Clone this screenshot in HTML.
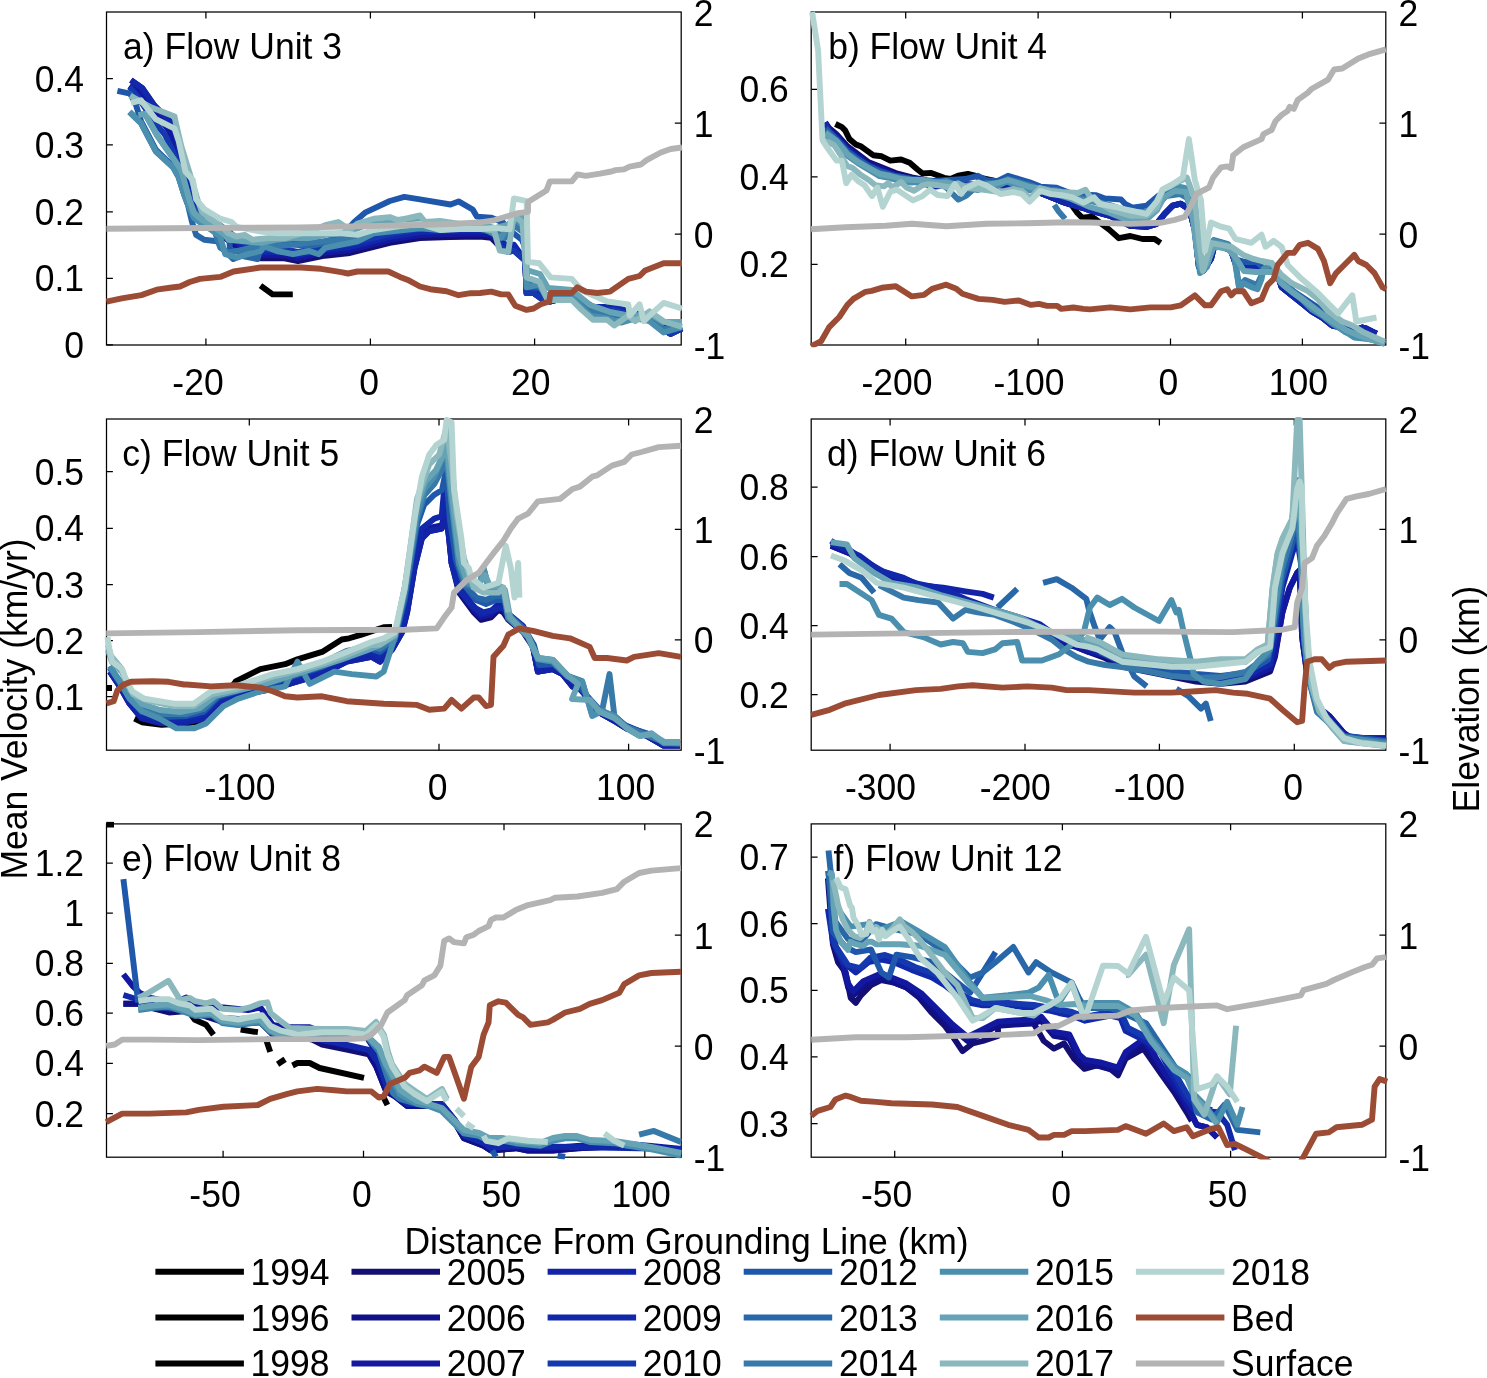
<!DOCTYPE html><html><head><meta charset="utf-8"><style>html,body{margin:0;padding:0;background:#fff}svg{display:block;will-change:transform}text{font-family:"Liberation Sans",sans-serif;font-size:35.5px;fill:#000}</style></head><body>
<svg width="1487" height="1378" viewBox="0 0 1487 1378">
<rect width="1487" height="1378" fill="#fff"/>
<rect x="106.5" y="12" width="574.7" height="333" fill="none" stroke="#000" stroke-width="1.25"/>
<path d="M106.5,344.8h6.4 M106.5,278.4h6.4 M106.5,211.8h6.4 M106.5,144.9h6.4 M106.5,78.7h6.4 M681.2,123h-6.4 M681.2,234h-6.4 M205.9,345v-6.4 M205.9,12v6.4 M370.4,345v-6.4 M370.4,12v6.4 M534.6,345v-6.4 M534.6,12v6.4" stroke="#000" stroke-width="1.25" fill="none"/>
<clipPath id="ca"><rect x="104.2" y="9.7" width="579.3" height="337.6"/></clipPath>
<g clip-path="url(#ca)" fill="none" stroke-width="5.9" stroke-linejoin="round" stroke-linecap="butt">
<path d="M260.5,285.6 272.6,294.4 292.8,294.4" stroke="#000000" />
<path d="M130.9,80.2 142.3,88.2 154.4,105.7 165.2,116.5 173.2,124.6 177.3,140.7 181.3,160.9 186.7,177 192.1,194.5 194.4,209.9 199.8,215.3 210.5,223.4 219.9,234.1 230.7,242.2 244.1,253 261.6,258.4 284.5,258.4 297.9,261 311.4,258.4 324.8,255.7 350,253 389.8,242.9 420,238.1 450,237 480,236.5 491.3,237.9 501.2,247.8 508.2,252 513.9,250.6 525.2,260.5 526.6,293 533.7,293 543.6,300 550.6,301.5 571.8,295.8 593,309.9 614.2,309.9 628.3,314.2 656.5,321.2 663.6,329.7 670.7,333.9 682,328.3" stroke="#140f73" />
<path d="M129.5,85.6 141,93.6 150.4,104.4 159.8,117.8 169.2,131.3 175.9,147.4 181.3,167.6 186.7,187.8 192.1,191.5 194.4,206.9 199.8,212.3 210.5,220.4 219.9,231.1 230.7,239.2 244.1,250 261.6,255.4 284.5,255.4 297.9,258 311.4,255.4 324.8,252.7 350,250 389.8,239.9 420,235.1 450,234 480,233.5 491.3,234.9 501.2,244.8 508.2,249 513.9,247.6 525.2,260.5 526.6,293 533.7,293 543.6,300 550.6,301.5 571.8,295.8 593,309.9 614.2,309.9 628.3,314.2 656.5,321.2 663.6,329.7 670.7,333.9 682,328.3" stroke="#1318a0" />
<path d="M130.9,80.2 142.3,88.2 154.4,105.7 165.2,116.5 173.2,124.6 177.3,140.7 181.3,160.9 186.7,177 192.1,194.5 194.4,209.9 199.8,215.3 210.5,217.4 219.9,228.1 230.7,236.2 244.1,247 261.6,252.4 284.5,252.4 297.9,255 311.4,252.4 324.8,249.7 350,247 389.8,236.9 420,232.1 450,231 480,230.5 491.3,231.9 501.2,241.8 508.2,246 513.9,244.6 525.2,260.5 526.6,293 533.7,290 543.6,297 550.6,298.5 571.8,292.8 593,306.9 614.2,306.9 628.3,311.2 656.5,318.2 663.6,326.7 670.7,330.9 682,328.3" stroke="#1128ab" />
<path d="M129.5,86.9 138.3,97.7 146.3,109.8 155.8,123.2 165.2,135.3 173.2,151.5 178.6,167.6 184,187.8 192.1,194.5 194.4,209.9 199.8,215.3 210.5,223.4 219.9,225.1 230.7,233.2 244.1,244 261.6,249.4 284.5,249.4 297.9,252 311.4,249.4 324.8,246.7 350,244 389.8,233.9 420,229.1 450,228 480,227.5 491.3,228.9 501.2,247.8 508.2,252 513.9,250.6 525.2,260.5 526.6,293 533.7,293 543.6,300 550.6,301.5 571.8,295.8 593,309.9 614.2,309.9 628.3,314.2 656.5,321.2 663.6,329.7 670.7,333.9 682,328.3" stroke="#1439af" />
<path d="M117.4,90.9 130.2,93.6 136,105 141,121 155.8,149.5 173.2,166.6 178.6,176 184,193.5 188,204 194,210 201,219 208,221 216,224 222,232 229,235 230,250 241.3,252 257.5,254 264,247.8 270.4,244.6 284.9,241.3 293,242.9 309.1,244.6 325.3,241.3 341.4,236.5 354.3,222 365.6,212.3 389.8,201 404.3,196.9 420,199.4 450.5,204.5 458.6,201.4 472.7,209.5 476.8,216.6 490.9,217.6 503,222.6 512,232 522,240 526,250 526.6,287 540,288 548,298 572,297 590,306 610,312 630,316 650,318 663,330 682,327" stroke="#1f57ab" />
<path d="M129.5,112 141,123 155.8,151 173.2,167 178.6,177 184,194 188,205 192,222 196.1,234.9 204.2,239.7 217.1,241.3 225.2,251 233.3,259.1 241.3,255.9 257.5,259.1 260.7,247.8 270.4,246 284.9,243.5 293,244.5 309.1,246 325.3,243 341.4,239 357.5,238 373.7,233 389.8,230 420,228 440,228 460,227 480,228 495,232 505,237 515,225 524,232 526.6,282 540,287 548,299 572,298 590,311 610,314 630,318 650,318 663,330 682,327" stroke="#2868a8" />
<path d="M138.3,115.1 145,113.8 157.1,135.3 175.9,162.2 181.3,170.3 189.4,199.9 194,212 204,222 214,229 220.3,247.8 228.4,252.6 244.6,249.4 260.7,244.6 276.8,246.2 293,244.6 309.1,242.9 325.3,241.3 341.4,239.7 357.5,236.5 373.7,231.6 420,226.8 440,229 460,228 480,229 495,233 505,238 515,226 524,233 526.6,280 540,286 548,299 572,298 590,310 610,313 630,318 650,317 663,329 682,326" stroke="#3779a8" />
<path d="M129.5,111.8 141,123.2 155.8,151.5 173.2,167.6 178.6,177 184,194.5 188,205 194,218 202,224 210,229 220,236 225.2,254.2 236.5,257.5 247.8,254.2 260.7,251 263.9,246.2 276.8,251 293,254.2 309.1,251 318.8,254.2 325.3,247.8 341.4,244.6 357.5,241.3 373.7,233.3 389.8,231.6 420,228.4 440,230 460,228 480,226.6 501.2,237.9 512.5,218.1 525.2,226.6 526.6,287.3 539.3,284.5 547.8,300 571.8,297.2 590.2,315.6 607.1,318.4 621.2,322.6 635.3,318.4 649.5,321.2 663.6,332.5 682,326.9" stroke="#4a8fae" />
<path d="M138.3,115.1 145,113.8 157.1,135.3 175.9,162.2 181.3,170.3 189.4,199.9 194,213 202,220 212,226 224,234 228.4,239.7 244.6,241.3 260.7,242.9 276.8,239.7 293,238.1 309.1,238.1 325.3,234.9 341.4,233.3 357.5,228.4 373.7,222 389.8,220.3 420,218.7 425,225 440,226 460,224 480,224 495,228 510,224 520,214 525,222 526.6,270 540,274 548,288 572,290 590,305 610,312 630,316 650,314 663,322 682,322" stroke="#66a3b5" />
<path d="M130.2,95.6 150.4,107.1 174.6,116.5 175.9,123.2 181.3,146.1 192.1,181 197.5,199.9 202,212 210,219 220,225 228.4,233.3 236.5,236.5 244.6,234.9 252.6,239.7 268.8,238.1 284.9,238.1 301,233.3 309.1,231.6 325.3,225.2 338.2,222 349.5,230 357.5,223.6 373.7,218.7 389.8,217.1 397.9,220.3 420,215.5 425,222 440,221 460,224 480,228 494.1,230.8 499.8,250.6 508.2,252 513.9,215.3 522.4,222.4 526.6,277.4 539.3,281.7 547.8,300 571.8,300 581.7,309.9 593,319.8 607.1,319.8 614.2,325.5 628.3,315.6 635.3,321.2 649.5,311.3 663.6,321.2 682,326.9" stroke="#8ab8bd" />
<path d="M130.9,103 141,100.3 155.8,119.2 174.6,128.6 178.6,140.7 185.4,171.6 192.9,180 196.1,199.4 204.2,209 220.3,218.7 231.6,222 236.5,226.8 260.7,231.6 276.8,233.3 301,233.3 325.3,233.3 341.4,233.3 357.5,234.9 373.7,230 400,226 420,224 440,230 460,229 480,229 495,228 509.7,229.4 513.9,198.4 526.6,201.2 528,261.9 539.3,263.3 550.6,277.4 571.8,278.9 581.7,290.2 607.1,301.5 628.3,304.3 629.7,315.6 639.6,304.3 643.8,321.2 649.5,315.6 663.6,302.9 682,308.5" stroke="#b4d4d2" />
<path d="M106.5,301.7 121.8,298.4 141.4,295.1 156.6,289.7 171.8,287.5 180,286.5 189.7,282 200,278.9 220.2,276.9 233.6,271.5 260.5,267.5 300.9,267.5 321,268.8 341.2,272.2 347.9,273.5 357.4,271.5 388.3,271.5 400,276.9 409.2,280.6 420,286.5 430.3,289.2 446.5,291.2 458.6,295.2 470.7,293.2 480,293 491.3,291.6 501.2,294.4 508.2,294.4 515.3,305.7 526.6,309.9 533.7,308.5 540.7,304.3 549.2,301.5 550.6,293 571.8,293 577.4,287.3 585.9,291.6 597.2,293 609.9,291.6 628.3,278.9 639.6,276 645.2,270.4 663.6,263.3 682,263.3" stroke="#9c4c35" />
<path d="M106.5,228.7 200,228 300,227.5 390,225.6 420,225 450,224 480,222.4 494.1,220.3 508.2,216 518.1,213.2 528,211.8 528,201.9 546.4,190.6 549.9,181.4 571.8,181.4 577.4,174.4 585.9,175.8 600,173.7 611.3,171.5 615.6,170.1 624,169.4 629.7,166.6 641,164.5 646.6,160.2 660.8,152.5 670.7,149 682,147.5" stroke="#b3b3b3" />
</g>
<text transform="translate(84.1,357.8) scale(1,1.045)" text-anchor="end">0</text>
<text transform="translate(84.1,291.4) scale(1,1.045)" text-anchor="end">0.1</text>
<text transform="translate(84.1,224.8) scale(1,1.045)" text-anchor="end">0.2</text>
<text transform="translate(84.1,157.9) scale(1,1.045)" text-anchor="end">0.3</text>
<text transform="translate(84.1,91.7) scale(1,1.045)" text-anchor="end">0.4</text>
<text transform="translate(693.8,25.5) scale(1,1.045)">2</text>
<text transform="translate(693.8,136.5) scale(1,1.045)">1</text>
<text transform="translate(693.8,247.5) scale(1,1.045)">0</text>
<text transform="translate(693.8,358.5) scale(1,1.045)">-1</text>
<text transform="translate(198,394.5) scale(1,1.045)" text-anchor="middle">-20</text>
<text transform="translate(369,394.5) scale(1,1.045)" text-anchor="middle">0</text>
<text transform="translate(530.8,394.5) scale(1,1.045)" text-anchor="middle">20</text>
<text transform="translate(123.1,58.7) scale(1,1.058)">a) Flow Unit 3</text>
<rect x="811.2" y="12" width="574.6" height="333" fill="none" stroke="#000" stroke-width="1.25"/>
<path d="M811.2,264.4h6.4 M811.2,176.9h6.4 M811.2,89.3h6.4 M1385.8,123h-6.4 M1385.8,234h-6.4 M905.7,345v-6.4 M905.7,12v6.4 M1038.1,345v-6.4 M1038.1,12v6.4 M1170.5,345v-6.4 M1170.5,12v6.4 M1302.4,345v-6.4 M1302.4,12v6.4" stroke="#000" stroke-width="1.25" fill="none"/>
<clipPath id="cb"><rect x="808.9" y="9.7" width="579.2" height="337.6"/></clipPath>
<g clip-path="url(#cb)" fill="none" stroke-width="5.9" stroke-linejoin="round" stroke-linecap="butt">
<path d="M835.4,124 841.9,127.2 845.1,130.4 849.4,139 855.9,144.4 861.3,146.6 873.1,155.2 881.7,156.3 890.3,160.6 901.1,159.5 909.7,162.7 917.2,169.2 922.6,173.5 931.2,172.9 944.1,177.8 950.6,178.9 958.1,175.6 967.8,174 975,175.6 978.5,177.5 1006.7,183.5 1026.9,187.5 1047.1,195.6 1061.8,201.6 1071.5,204.9 1076.9,212.4 1082.3,217.8 1092,216.7 1100.6,223.2 1109.2,229.6 1118.9,238.2 1130.3,236 1142.5,239 1154.6,239 1160.6,243" stroke="#000000" />
<path d="M825.2,122.5 829,127.9 836.5,134.3 847.3,146.2 860.2,155.8 868.8,162.3 879.6,166.6 895.7,173.1 911.8,177.4 922.6,179.5 933.4,182.7 956.3,184 976.5,185 996.7,185 1016.8,186 1037,191.6 1061.8,201.6 1083.4,208.1 1090,210.5 1110.2,215.8 1130.3,225.9 1146.5,226.9 1156.6,223.9 1164.6,213.8 1172.7,205.7 1180.8,203.7 1186.8,207.7 1190.9,215 1194.9,230.7 1198.9,267 1203,271 1211,258.9 1215.1,242.8 1231.2,250.9 1235.3,263 1243.3,267 1255.4,267 1263.5,269 1271.6,267 1277.6,275.1 1281.7,287.2 1291.7,295.3 1301.8,303.3 1311.9,311.4 1322,317.5 1332.1,325.5 1342.2,327.5 1352.3,331.6 1362.4,327.5 1376.5,333.6" stroke="#140f73" />
<path d="M1364.4,327.5 1376.5,333.6" stroke="#140f73" />
<path d="M825.2,122.5 829,129.9 836.5,136.3 847.3,148.2 860.2,157.8 868.8,164.3 879.6,168.6 895.7,175.1 911.8,179.4 922.6,181.5 933.4,184.7 956.3,184 976.5,185 996.7,185 1016.8,186 1037,191.6 1061.8,201.6 1083.4,208.1 1090,210.5 1110.2,215.8 1130.3,225.9 1146.5,226.9 1156.6,223.9 1164.6,213.8 1172.7,205.7 1180.8,203.7 1186.8,207.7 1190.9,215 1194.9,230.7 1198.9,267 1203,271 1211,258.9 1215.1,242.8 1231.2,250.9 1235.3,263 1243.3,267 1255.4,267 1263.5,269 1271.6,267 1277.6,275.1 1281.7,287.2 1291.7,295.3 1301.8,303.3 1311.9,311.4 1322,317.5 1332.1,325.5 1342.2,327.5 1352.3,331.6 1362.4,327.5 1376.5,333.6" stroke="#1318a0" />
<path d="M825.2,122.5 829,131.9 836.5,138.3 847.3,150.2 860.2,159.8 868.8,166.3 879.6,170.6 895.7,177.1 911.8,181.4 922.6,183.5 933.4,186.7 956.3,184 976.5,185 996.7,185 1016.8,186 1037,191.6 1061.8,201.6 1083.4,208.1 1090,210.5 1110.2,215.8 1130.3,225.9 1146.5,226.9 1156.6,223.9 1164.6,213.8 1172.7,205.7 1180.8,203.7 1186.8,207.7 1190.9,215 1194.9,230.7 1198.9,267 1203,271 1211,258.9 1215.1,242.8 1231.2,250.9 1235.3,263 1243.3,267 1255.4,267 1263.5,269 1271.6,267 1277.6,275.1 1281.7,287.2 1291.7,295.3 1301.8,303.3 1311.9,311.4 1322,317.5 1332.1,325.5 1342.2,327.5 1352.3,331.6 1362.4,327.5 1376.5,333.6" stroke="#1128ab" />
<path d="M825.5,128 836.5,139 847.3,151 858,159 868.8,166 879.6,171 895.7,176 911.8,179 922.6,180 933.4,181 950,180 965,179 977.9,175.8 986.5,180.1 997.3,181.2 1008,175.8 1018.8,179 1029.6,182.3 1040.3,186.6 1056.5,187.7 1072.6,194.1 1096.3,195.2 1104.9,198.4 1121,199.5 1125,203.8 1132.4,207.7 1146.5,205.7 1158.6,195.6 1166.7,191.6 1180.8,191.6 1184.8,193.6 1190.9,201.7 1195,225 1199,262 1205,268 1213,245 1229,248 1235,259 1245,262 1257,262 1265,270 1273,268 1281,280 1293,291 1305,299 1317,307 1329,318 1345,330 1357,335 1372,338 1385,342" stroke="#1f57ab" />
<path d="M825.5,131 836.5,141 847.3,153 858,161 868.8,168 879.6,173 895.7,177 911.8,180 922.6,181 933.4,182 940,183 946.2,187.5 958.3,199.6 966.4,195.6 978,185 986.5,183 997.3,184 1008,179 1018.8,182 1029.6,185 1040.3,189 1056.5,190 1072.6,196 1090,200 1110,205 1130,212 1146,212 1158,205 1166,196 1180,194 1187,198 1193,214 1197,245 1201,268 1208,262 1214,240 1228,244 1234,252 1239,286 1245,280 1257,285 1265,268 1273,266 1280,278 1292,290 1304,300 1316,309 1328,319 1345,332 1360,337 1385,343" stroke="#3779a8" />
<path d="M1054.3,204.9 1058.6,211.3 1065.1,218.9" stroke="#3779a8" />
<path d="M825.8,135.2 836.5,142.7 847.3,155.6 858,163.2 868.8,169.6 879.6,176.1 890.3,178.2 901.1,181.4 911.8,182.5 922.6,181.4 933,184 946.2,181 956.3,185 966.4,188 978,190 986.6,187.5 997,186 1006.7,181.5 1018,186 1030,190 1047.1,191.6 1067.3,197.6 1090,201 1110,206 1130,212 1146,212 1157,204 1163,190 1175,186 1185,188 1192.9,216.6 1196.9,250.9 1200,273.1 1207,267 1213.1,240.8 1227.2,244.8 1233.2,250.9 1239.3,289.2 1243.3,283.2 1251.4,287.2 1257.5,289.2 1261.5,279.1 1263.5,269 1271.6,263 1277.6,275.1 1283.7,285.2 1301.8,299.3 1311.9,309.4 1322,315.4 1332.1,323.5 1348.2,333.6 1354.3,337.6 1372.4,339.6 1384.6,343.7" stroke="#4a8fae" />
<path d="M825.5,133 836.5,141 847.3,154 858,162 868.8,168 879.6,174 890.3,176 901.1,179 911.8,180 922.6,180 933,182 946,183 966,186 978,184 986,185 997,183 1008,180 1018,183 1030,187 1047,190 1067,197 1090,207 1110,213 1130,221 1146,220 1157,210 1164,197 1175,191 1186,192 1193,220 1198,258 1202,270 1208,262 1214,246 1228,249 1236,258 1244,271 1256,272 1264,272 1274,272 1281,283 1292,292 1305,301 1318,311 1330,320 1346,330 1360,336 1385,344" stroke="#66a3b5" />
<path d="M821.5,140.1 829,142.3 834.4,145.5 840.8,155.2 843,159.5 847.3,166 852.7,168.1 860.2,174.6 868.8,179.9 875.3,185.3 883.9,186.4 888.2,183.2 892.5,187.5 901.1,182.1 906.5,187.5 914,190.7 922.6,185.3 928,184.2 938.7,185.3 949.5,187.5 958.1,183.2 965.6,187.5 975.8,188.7 986,190 1000,192 1013,189 1022,191 1030,198 1040,188 1051,191 1062,192 1078,193 1085.5,189.8 1089.8,196.3 1110.2,209.7 1130.3,215.8 1146.5,215.8 1156.6,207.7 1162.6,189.6 1174.7,183.5 1186.8,177.5 1195,200 1199,240 1203,271 1211,242.8 1221.1,244.8 1231.2,246.8 1243.3,254.9 1253.4,258.9 1261.5,261 1271.6,263 1281.7,275.1 1291.7,283.2 1307.9,291.2 1318,299.3 1328.1,311.4 1342.2,321.5 1352.3,325.5 1362.4,331.6 1384.6,341.7" stroke="#8ab8bd" />
<path d="M812.1,12 818.1,50.3 822.5,140.1 825.8,145.5 831.1,153 836.5,160.6 841.9,160.6 846.2,183.2 851.6,174.6 858,181 864.5,185.3 872,196.1 877.4,187.5 882.8,206.8 890.3,191.8 896.8,189.6 906.5,196.1 912.9,200.4 922.6,196.1 930.1,189.6 937.7,195 947.3,196.1 954.9,184.2 961.3,193.9 965,188.7 977.9,182.3 986.5,185.5 1000.5,194.1 1013.4,192 1022,194.1 1029.6,201.6 1040.3,190.9 1051.1,194.1 1061.8,195.2 1072.6,197.3 1083.4,202.7 1094.1,197.3 1099.5,203.8 1115.6,207 1126.3,209.7 1146.5,213.8 1156.6,201.7 1162.6,189.6 1170.7,185.5 1182.8,177.5 1188.9,139.1 1194.9,180.3 1201,200.4 1205,250.9 1211,222.6 1221.1,226.7 1229.2,228.7 1235.3,238.8 1251.4,242.8 1261.5,234.7 1265.5,246.8 1273.6,240.8 1281.7,246.8 1287.7,265 1301.8,279.1 1316,291.2 1328.1,303.3 1338.2,313.4 1352.3,295.3 1356.3,321.5 1376.5,317.5" stroke="#b4d4d2" />
<path d="M811.1,346.3 821.1,341.2 829.2,327.1 839.3,317 847.4,304.9 853.4,298.9 865.5,291.8 871.6,290.8 881.7,287.8 895.8,286.3 911.9,296.4 924,294.8 932.1,288.8 946.2,284.7 956.3,288.8 962.4,293.8 978.5,298.9 992.6,299.9 1004.7,301.9 1018.9,300.5 1031,304.9 1039,303.9 1047.1,305.9 1057.2,305.9 1061.2,308.9 1073.3,307.5 1083.4,308.9 1090,309.4 1110.2,307.4 1130.3,309.4 1150.5,307.4 1170.7,307.4 1180.8,305.3 1194.9,295.3 1205,305.3 1211,305.3 1221.1,291.2 1227.2,289.2 1231.2,295.3 1235.3,291.2 1243.3,291.2 1251.4,303.3 1261.5,299.3 1267.5,285.2 1273.6,279.1 1277.6,265 1287.7,252.9 1293.8,252.9 1299.8,244.8 1307.9,242.8 1318,248.9 1324,261 1330.1,283.2 1336.1,273.1 1344.2,265 1354.3,254.9 1358.3,261 1366.4,265 1374.5,273.1 1382.5,287.2 1386,289.2" stroke="#9c4c35" />
<path d="M811.1,229.3 845.3,227.2 885.7,225.8 911.9,223.8 946.2,226.2 986.6,223.8 1026.9,223.2 1067.3,222.2 1090,222.5 1130.3,223.9 1160.6,222.8 1174.7,219.8 1184.8,216.8 1190.9,205.7 1196.9,193.6 1209,187.5 1213.1,177.5 1221.1,167.4 1227.2,166.4 1231.2,168.4 1233.2,155.3 1243.3,147.2 1261.5,139.1 1263.5,134.1 1271.6,130 1275.6,121 1281.7,114.9 1287.7,110.9 1289.7,106.8 1293.8,108.9 1297.8,99.8 1307.9,92.7 1311.9,88.7 1328.1,79.6 1334.1,69.5 1342.2,68.5 1358.3,58.4 1368.4,54.4 1386,49.3" stroke="#b3b3b3" />
</g>
<text transform="translate(788.8,277.4) scale(1,1.045)" text-anchor="end">0.2</text>
<text transform="translate(788.8,189.9) scale(1,1.045)" text-anchor="end">0.4</text>
<text transform="translate(788.8,102.3) scale(1,1.045)" text-anchor="end">0.6</text>
<text transform="translate(1398.4,25.5) scale(1,1.045)">2</text>
<text transform="translate(1398.4,136.5) scale(1,1.045)">1</text>
<text transform="translate(1398.4,247.5) scale(1,1.045)">0</text>
<text transform="translate(1398.4,358.5) scale(1,1.045)">-1</text>
<text transform="translate(896.9,394.5) scale(1,1.045)" text-anchor="middle">-200</text>
<text transform="translate(1029,394.5) scale(1,1.045)" text-anchor="middle">-100</text>
<text transform="translate(1168.3,394.5) scale(1,1.045)" text-anchor="middle">0</text>
<text transform="translate(1298.4,394.5) scale(1,1.045)" text-anchor="middle">100</text>
<text transform="translate(828.2,58.7) scale(1,1.058)">b) Flow Unit 4</text>
<rect x="106.5" y="419" width="574.7" height="331.2" fill="none" stroke="#000" stroke-width="1.25"/>
<path d="M106.5,696.7h6.4 M106.5,640.7h6.4 M106.5,584.6h6.4 M106.5,528.3h6.4 M106.5,471.7h6.4 M681.2,529.4h-6.4 M681.2,639.8h-6.4 M249.3,750.2v-6.4 M249.3,419v6.4 M439,750.2v-6.4 M439,419v6.4 M628.6,750.2v-6.4 M628.6,419v6.4" stroke="#000" stroke-width="1.25" fill="none"/>
<clipPath id="cc"><rect x="104.2" y="416.7" width="579.3" height="335.8"/></clipPath>
<g clip-path="url(#cc)" fill="none" stroke-width="5.9" stroke-linejoin="round" stroke-linecap="butt">
<path d="M134.5,718.5 141.9,722.2 161.7,724.7 186.4,723.4 203.6,721 213.5,711.1 235.7,681.5 260.4,669.1 285.1,664.2 297.4,659.3 322.1,651.9 341.8,639.5 349.2,638.3 361.5,634.6 383.7,627.2 392,627" stroke="#000000" />
<path d="M106.5,688 112,688" stroke="#000000" />
<path d="M109.9,671.6 119.7,686.4 129.6,703.7 141.9,718.5 161.7,723.4 186.4,722.2 203.6,718.5 218.4,703.7 248,693.8 272.7,688.9 297.4,681.5 322.1,674.1 346.7,661.7 371.4,656.8 380,661.7 392.3,649.4 402.2,632.1 407.1,612.4 414.5,568 421.9,538.4 429.3,531 441.7,528.5 444.2,518.6 445.4,498.9 446.6,518.6 449.1,538.4 451.6,563 459,592.6 473.8,612.4 481.2,619.8 491,617.3 498.4,609.9 503.4,612.4 508.3,619.8 523.1,632.1 533,646.9 537.9,671.6 552.7,669.1 562.6,674.1 572.5,686.4 577.4,681.5 587.3,698.7 597.1,711.1 614.4,721 626.7,728.4 646.5,735.8 663.7,745.6 680,745.6" stroke="#140f73" />
<path d="M109.9,671.6 119.7,683.4 129.6,700.7 141.9,715.5 161.7,720.4 186.4,719.2 203.6,715.5 218.4,700.7 248,690.8 272.7,685.9 297.4,678.5 322.1,671.1 346.7,658.7 371.4,653.8 380,658.7 392.3,646.4 402.2,629.1 407.1,609.4 414.5,565 421.9,535.4 429.3,528 441.7,525.5 444.2,515.6 445.4,495.9 446.6,515.6 449.1,535.4 451.6,560 459,589.6 473.8,609.4 481.2,616.8 491,614.3 498.4,606.9 503.4,609.4 508.3,616.8 523.1,629.1 533,646.9 537.9,671.6 552.7,669.1 562.6,674.1 572.5,686.4 577.4,681.5 587.3,698.7 597.1,711.1 614.4,721 626.7,728.4 646.5,735.8 663.7,745.6 680,745.6" stroke="#1318a0" />
<path d="M109.9,671.6 119.7,686.4 129.6,703.7 141.9,718.5 161.7,723.4 186.4,722.2 203.6,718.5 218.4,703.7 248,693.8 272.7,688.9 297.4,681.5 322.1,674.1 346.7,661.7 371.4,656.8 380,661.7 392.3,649.4 402.2,632.1 407.1,612.4 414.5,568 421.9,538.4 429.3,531 441.7,528.5 444.2,518.6 445.4,498.9 446.6,518.6 449.1,538.4 451.6,563 459,586.6 473.8,606.4 481.2,613.8 491,611.3 498.4,603.9 503.4,606.4 508.3,613.8 523.1,626.1 533,646.9 537.9,671.6 552.7,669.1 562.6,674.1 572.5,686.4 577.4,681.5 587.3,698.7 597.1,711.1 614.4,721 626.7,728.4 646.5,735.8 663.7,745.6 680,745.6" stroke="#1323a8" />
<path d="M109.9,668 119.7,683 129.6,700 141.9,715 161.7,720 186.4,719 203.6,715 218.4,700 248,690 272.7,685 297.4,678 322.1,670 346.7,658 371.4,652 380,656.8 394.8,642 404.7,617.3 417,543.3 421.9,528.5 434.3,518.6 441.7,516.2 444.2,489 446.6,494 451.6,563 459,590.2 473.8,607.5 483.6,612.4 493.5,609.9 503.4,607.5 508.3,617.3 523.1,629.7 533,644.5 537.9,666.7 552.7,664.2 567.5,676.5 577.4,686.4 587,697 597,709 614,719 627,726 646,734 664,743 680,744" stroke="#1128ab" />
<path d="M109.9,668 119.7,683 129.6,698 141.9,712 161.7,717 186.4,716 203.6,712 218.4,697 248,688 272.7,683 297.4,675 322.1,667 346.7,655 371.4,649 380,652 394.8,640 404.7,600 417,525 424,505 434,495 442,490 446,470 450,520 456,560 464,585 476,600 486,604 496,600 504,600 509,615 525,630 534,645 539,665 553,664 568,676 578,684 588,697 598,708 606,713 614.4,716 627,727 646,733 664,742 680,744" stroke="#1f57ab" />
<path d="M452,510 458,560 465,586 477,598 486,600 495,596 504,596 509,615 525,630" stroke="#2868a8" />
<path d="M109.9,666 119.7,681 129.6,696 141.9,709 161.7,714 186.4,714 203.6,709 218.4,695 248,686 272.7,680 297.4,672 322.1,663 346.7,651 371.4,646 380,649 394.8,638 404.7,595 417,520 424.4,495 434.3,484 441.7,470 446.6,460 451.6,505 459,565 466,585 478,589 484,570 489,589 498,589 503,589 508,618 528,636 538,658 553,660 568,676 582,681 592,714 602,711.1 609.5,674.1 614.4,716 627,727 646,735 664,742 680,742" stroke="#3779a8" />
<path d="M109.9,666.7 119.7,681.5 129.6,698.7 141.9,711.1 159.2,718.5 176.5,728.4 193.8,728.4 206.1,723.4 223.4,706.1 238.2,698.7 260.4,691.3 285.1,686.4 297.4,661.7 309.7,683.9 334.4,671.6 351.7,674.1 376.3,676.5 383.7,671.6 394.8,637.1 404.7,587.7 417,513.7 424.4,489 434.3,476.7 441.7,459.4 446.6,452 451.6,501.4 459,563 466.4,582.8 478.7,587.7 483.6,568 488.6,587.7 498.4,587.7 503.4,587.7 508.3,617.3 528,637.1 537.9,659.3 552.7,661.7 567.5,676.5 582.3,681.5 592.2,716 602.1,711.1 614.4,716 626.7,728.4 639.1,735.8 651.4,733.3 663.7,743.2 680,743.2" stroke="#4a8fae" />
<path d="M108,650 112,662 122,672 130,690 142,704 160,710 180,712 200,708 215,696 240,690 265,684 290,676 315,668 340,660 365,651 380,645 394.8,636 404.7,590 417,505 425,482 436,470 443,455 447,445 452,495 459,555 466,578 478,585 485,575 490,586 500,586 505,590 510,617 528,636 538,658 553,660 568,676 578,684 572,699 590,700 600,712 614,718 627,728 640,736 652,734 664,742 680,742" stroke="#66a3b5" />
<path d="M108,645 111,656 121,668 126,680 133,694 146,700 174,706 194,706 212,694 236,689 272,677 297,671 322,664 347,655 371,645 380,644.5 394.8,634.6 404.7,587.7 417,498.9 429.3,464.3 439.2,454.5 446.6,427.3 451.6,464.3 456.5,513.7 463.9,558.1 473.8,587.7 483.6,592.6 498.4,592.6 503.4,587.7 508.3,612.4" stroke="#8ab8bd" />
<path d="M107.4,637.1 109.9,651.9 112.3,661.7 122.2,669.1 124.7,676.5 132.1,691.3 144.4,698.7 174,703.7 193.8,703.7 211,691.3 235.7,686.4 272.7,674.1 297.4,669.1 322.1,661.7 346.7,651.9 371.4,642 383.7,638.3 394.8,632.1 404.7,587.7 414.5,518.6 421.9,476.7 429.3,454.5 436.7,444.6 444.2,439.7 446.6,419.9 451.6,422.4 454,489 461.4,538.4 463.9,563 468.8,568 471.3,577.8 483.6,587.7 498.4,582.8 505.8,545.8 510.8,568 514.5,597.6 518.2,563 519.4,597.6" stroke="#b4d4d2" />
<path d="M106.5,703.4 113.7,701.2 117.4,690.4 122.8,685.1 130.9,681.8 152.4,681.3 168.6,681.8 184,684.5 186.4,684.5 211,686.4 235.7,685.2 260.4,687.6 272.7,691.3 285.1,696.3 297.4,697.5 322.1,696.3 346.7,701.2 383.7,703.7 417,704.9 429.3,709.8 444.2,708.6 451.6,700 461.4,708.6 473.8,697.5 478.7,697.5 486.1,706.1 491,704.9 493.5,656.8 503.4,645.7 508.3,634.6 519.4,628.4 533,630.9 552.7,635.8 570,638.3 589.7,646.9 594.7,658 607,658 626.7,660.5 634.1,656.8 658.8,653.1 681,656.8" stroke="#9c4c35" />
<path d="M106.2,633.4 198.7,632.1 297.4,630.2 404.7,629.7 436.7,628.4 444.2,617.3 451.6,607.5 454,592.6 466.4,580.3 478.7,572.9 486.1,563 493.5,553.2 503.4,540.8 510.8,528.5 518.2,518.6 528,513.7 537.9,501.4 560.1,498.9 572.5,489 579.9,486.6 592.2,476.7 597.1,475.4 611.9,465.6 624.3,461.9 631.7,454.5 641.5,452 658.8,447.1 681,445.8" stroke="#b3b3b3" />
</g>
<text transform="translate(84.1,709.7) scale(1,1.045)" text-anchor="end">0.1</text>
<text transform="translate(84.1,653.7) scale(1,1.045)" text-anchor="end">0.2</text>
<text transform="translate(84.1,597.6) scale(1,1.045)" text-anchor="end">0.3</text>
<text transform="translate(84.1,541.3) scale(1,1.045)" text-anchor="end">0.4</text>
<text transform="translate(84.1,484.7) scale(1,1.045)" text-anchor="end">0.5</text>
<text transform="translate(693.8,432.5) scale(1,1.045)">2</text>
<text transform="translate(693.8,542.9) scale(1,1.045)">1</text>
<text transform="translate(693.8,653.3) scale(1,1.045)">0</text>
<text transform="translate(693.8,763.7) scale(1,1.045)">-1</text>
<text transform="translate(240,799.7) scale(1,1.045)" text-anchor="middle">-100</text>
<text transform="translate(437.6,799.7) scale(1,1.045)" text-anchor="middle">0</text>
<text transform="translate(625.7,799.7) scale(1,1.045)" text-anchor="middle">100</text>
<text transform="translate(122.3,465.7) scale(1,1.058)">c) Flow Unit 5</text>
<rect x="811.2" y="419" width="574.6" height="331.2" fill="none" stroke="#000" stroke-width="1.25"/>
<path d="M811.2,694.6h6.4 M811.2,625.5h6.4 M811.2,556.7h6.4 M811.2,487.1h6.4 M1385.8,529.4h-6.4 M1385.8,639.8h-6.4 M890.1,750.2v-6.4 M890.1,419v6.4 M1025,750.2v-6.4 M1025,419v6.4 M1159.4,750.2v-6.4 M1159.4,419v6.4 M1294.3,750.2v-6.4 M1294.3,419v6.4" stroke="#000" stroke-width="1.25" fill="none"/>
<clipPath id="cd"><rect x="808.9" y="416.7" width="579.2" height="335.8"/></clipPath>
<g clip-path="url(#cd)" fill="none" stroke-width="5.9" stroke-linejoin="round" stroke-linecap="butt">
<path d="M830.9,545.8 849.4,553.2 866.7,565.5 884,575.4 918.5,587.7 943.2,592.6 965.4,602.5 992.5,612.4 1014.7,619.8 1039.4,627.2 1059.1,642 1076.4,646.9 1088.7,651.9 1105,658 1122,666.7 1146.7,671.6 1171.4,676.5 1196,681.5 1220.7,683.9 1245.4,681.5 1270.1,671.6 1275,656.8 1282.4,612.4 1289.8,587.7 1297.2,572.9 1299.7,570.4 1302.1,637.1 1307.1,674.1 1316.9,706.1 1329.3,716 1344.1,733.3 1351.5,738.2 1386,738.2" stroke="#140f73" />
<path d="M830.9,545.8 849.4,553.2 866.7,565.5 884,575.4 918.5,587.7 943.2,592.6 965.4,602.5 992.5,612.4 1014.7,619.8 1039.4,627.2 1059.1,642 1076.4,646.9 1088.7,651.9 1105,655 1122,663.7 1146.7,668.6 1171.4,673.5 1196,678.5 1220.7,680.9 1245.4,678.5 1270.1,668.6 1275,653.8 1282.4,612.4 1289.8,587.7 1297.2,572.9 1299.7,570.4 1302.1,637.1 1307.1,674.1 1316.9,706.1 1329.3,716 1344.1,733.3 1351.5,738.2 1386,738.2" stroke="#1318a0" />
<path d="M830.9,540.8 842,548.2 859.3,555.6 879,570.4 903.7,577.8 918.5,585.2 943.2,587.7 965.4,591.4 982.6,593.9 993.8,597.6" stroke="#1323a8" />
<path d="M830.9,543 849.4,550 866.7,562 884,572 918.5,584 943.2,589 965.4,599 992.5,609 1014.7,616 1039.4,624 1059.1,638 1076.4,643 1088.7,648 1105,655 1122,664.2 1146.7,669.1 1171.4,674.1 1196,676.5 1220.7,679 1245.4,676.5 1270.1,664.2 1275,637.1 1282.4,587.7 1292.3,553.2 1297.2,538.4 1300.9,563 1303.4,637.1 1308.3,676.5 1316.9,708.6 1329.3,721 1344.1,735.8 1386,740.7" stroke="#1128ab" />
<path d="M1100,652 1122,662 1146.7,667 1171.4,671 1196,674 1220.7,676 1245.4,673 1268,660 1274,630 1282,580 1292,545 1297,525 1301,560 1304,640 1309,678 1317,708 1329,722 1344,736 1386,741" stroke="#1f57ab" />
<path d="M839.5,564.3 849.4,572.9 861.7,577.8 874.1,592.6" stroke="#2868a8" />
<path d="M997.5,607.5 1017.2,588.9" stroke="#2868a8" />
<path d="M1043.1,582.8 1056.7,579.1 1071.5,587.7 1086.3,598.8 1089,610 1094.9,627.2 1099.8,639.5 1109.7,627.2 1114.6,632.1 1122,651.9 1134.3,676.5 1146.7,686.4" stroke="#2868a8" />
<path d="M1176.3,688.9 1188.6,696.3 1201,708.6 1205.9,703.7 1210.8,721" stroke="#2868a8" />
<path d="M879,585.2 903.7,597.6 918.5,600.1 938.2,602.5 953,618.6 965.4,609.9 977.7,612.4 995,614.9 1014.7,622.3 1032,629.7 1051.7,639.5 1064.1,649.4 1076.4,656.8 1088.7,661.7 1105,665 1122,667 1146.7,671 1171.4,676 1196,678 1220.7,677 1245.4,672 1268,655 1274,620 1282,570 1292,535 1297,510 1301,555 1304,640 1309,680 1317,712 1329,723 1344,738 1386,742" stroke="#3779a8" />
<path d="M839.5,584 846.9,584 871.6,600.1 879,614.9 891.4,618.6 903.7,632.1 923.4,637.1 940.7,644.5 953,642 962.9,643.2 967.8,651.9 982.6,653.1 995,649.4 1002.4,643.2 1017.2,642 1022.1,660.5 1041.9,660.5 1059.1,654.3 1071.5,644.5 1083.8,632.1 1089.9,607.5 1097.3,597.6 1109.7,605 1122,598.8 1134.3,607.5 1159,621 1171.4,600.1 1176.3,612.4 1178.8,609.9 1183.7,632.1 1191.1,661.7 1193.6,674.1 1203.4,681.5 1220.7,683.9 1245.4,679 1257.7,661.7 1270.1,649.4 1275,610 1282,560 1292,520 1297,480 1300,520 1303,620 1308,675 1317,705 1329,720 1344,737 1386,744" stroke="#4a8fae" />
<path d="M830.9,542.1 846.9,544.5 854.3,558.1 874.1,572.9 891.4,582.8 918.5,587.7 940.7,595.1 977.7,605 1002.4,612.4 1019.7,617.3 1034.5,624.7 1051.7,632.1 1076.4,637.1 1088.7,642 1099.8,645 1122,657 1159,662 1196,664 1220.7,662 1245.4,662 1257.7,652 1267.6,647 1272.5,590 1277.5,555 1282.4,540 1292.3,528 1297.2,505 1299.7,508 1302.1,530 1304.6,590 1307.1,650 1312,688 1319.4,712 1331.7,727 1344.1,741 1368.7,744 1386,746" stroke="#66a3b5" />
<path d="M1085,637.1 1099.8,642 1122,654.3 1159,659.3 1196,661.7 1220.7,659.3 1245.4,659.3 1257.7,649.4 1267.6,644.5 1272.5,587.7 1277.5,553.2 1282.4,538.4 1292.3,518.6 1297.2,419.9 1299.7,419.9 1302.1,501.4 1304.6,587.7 1307.1,649.4 1312,686.4 1319.4,711.1 1331.7,725.9 1344.1,740.7 1368.7,743.2 1386,745.6" stroke="#8ab8bd" />
<path d="M830.9,555.6 844.5,560.6 861.7,570.4 876.6,582.8 903.7,587.7 940.7,597.6 977.7,607.5 1002.4,614.9 1027.1,622.3 1051.7,632.1 1076.4,644.5 1088.7,646.9 1097.3,649.4 1122,661.7 1146.7,664.2 1171.4,666.7 1196,666.7 1220.7,664.2 1245.4,661.7 1257.7,651.9 1270.1,646.9 1275,587.7 1282.4,553.2 1292.3,528.5 1297.2,489 1299.7,481.6 1302.1,489 1302.1,533.4 1305.8,612.4 1309.5,661.7 1316.9,698.7 1326.8,718.5 1344.1,738.2 1361.3,743.2 1386,745.6" stroke="#b4d4d2" />
<path d="M811.2,714.8 829.7,709.8 844.5,703.7 879,695 916,690.1 940.7,688.9 958,686.4 972.8,685.2 1002.4,687.6 1027.1,686.4 1051.7,687.6 1066.5,690.1 1088.7,690.1 1134.3,692.6 1171.4,692.6 1196,691.3 1215.8,690.1 1233,692.6 1247.8,693.8 1270.1,698.7 1282.4,709.8 1297.2,722.2 1302.1,721 1304.6,686.4 1307.1,661.7 1314.5,659.3 1321.9,659.3 1329.3,667.9 1334.2,664.2 1346.5,661.7 1386,660.5" stroke="#9c4c35" />
<path d="M811.2,634.6 903.7,633.4 1002.4,632.1 1105,631.6 1159,631.6 1233,632.1 1282.4,629.7 1294.7,627.2 1297.2,602.5 1302.1,587.7 1304.6,563 1312,558.1 1316.9,545.8 1324.3,535.9 1331.7,523.6 1336.7,513.7 1346.5,498.9 1356.4,496.4 1368.7,494 1386,489" stroke="#b3b3b3" />
</g>
<text transform="translate(788.8,707.6) scale(1,1.045)" text-anchor="end">0.2</text>
<text transform="translate(788.8,638.5) scale(1,1.045)" text-anchor="end">0.4</text>
<text transform="translate(788.8,569.7) scale(1,1.045)" text-anchor="end">0.6</text>
<text transform="translate(788.8,500.1) scale(1,1.045)" text-anchor="end">0.8</text>
<text transform="translate(1398.4,432.5) scale(1,1.045)">2</text>
<text transform="translate(1398.4,542.9) scale(1,1.045)">1</text>
<text transform="translate(1398.4,653.3) scale(1,1.045)">0</text>
<text transform="translate(1398.4,763.7) scale(1,1.045)">-1</text>
<text transform="translate(880.4,799.7) scale(1,1.045)" text-anchor="middle">-300</text>
<text transform="translate(1015.3,799.7) scale(1,1.045)" text-anchor="middle">-200</text>
<text transform="translate(1149.5,799.7) scale(1,1.045)" text-anchor="middle">-100</text>
<text transform="translate(1293,799.7) scale(1,1.045)" text-anchor="middle">0</text>
<text transform="translate(827,465.7) scale(1,1.058)">d) Flow Unit 6</text>
<rect x="106.5" y="823.9" width="574.7" height="333.3" fill="none" stroke="#000" stroke-width="1.25"/>
<path d="M106.5,1113.6h6.4 M106.5,1063.4h6.4 M106.5,1013.2h6.4 M106.5,963.3h6.4 M106.5,913.2h6.4 M106.5,863h6.4 M681.2,935h-6.4 M681.2,1046.1h-6.4 M223.1,1157.2v-6.4 M223.1,823.9v6.4 M363.5,1157.2v-6.4 M363.5,823.9v6.4 M504,1157.2v-6.4 M504,823.9v6.4 M644.8,1157.2v-6.4 M644.8,823.9v6.4" stroke="#000" stroke-width="1.25" fill="none"/>
<clipPath id="ce"><rect x="104.2" y="821.6" width="579.3" height="337.9"/></clipPath>
<g clip-path="url(#ce)" fill="none" stroke-width="5.9" stroke-linejoin="round" stroke-linecap="butt">
<path d="M191.3,1014.9 195,1019.9 206.1,1024.8 213.5,1034.7" stroke="#000000" />
<path d="M240.6,1029.7 257.9,1032.2" stroke="#000000" />
<path d="M265.3,1037.1 270.2,1051.9" stroke="#000000" />
<path d="M277.6,1064.3 285.1,1059.3" stroke="#000000" />
<path d="M292.5,1065.5 297.4,1063 309.7,1063 319.6,1068 364,1077.8" stroke="#000000" />
<path d="M383.7,1097.6 387.4,1105" stroke="#000000" />
<path d="M106.2,824.6 114,824.6" stroke="#000000" />
<path d="M123.4,1003.8 139.5,1003.8 149.3,1007.5 169.1,1012.5 183.9,1011.2 193.8,1012.5 223.4,1022.3 238.2,1023.6 260.4,1022.3 272.7,1034.7 297.4,1037.1 312.2,1039.6 322.1,1044.5 346.7,1049.5 368.9,1054.4 376.3,1066.7 386.2,1091.4 394.8,1096.3 407.1,1106 429.3,1106 441.7,1106 454,1121 463.9,1138.3 483.6,1145.7 491,1150.6 515.7,1148.2 528,1150.6 552.7,1150.6 577.4,1148.2 626.7,1145.7 651.4,1148.2 681,1150.6" stroke="#140f73" />
<path d="M123.4,1003.8 139.5,1003.8 149.3,1004.5 169.1,1009.5 183.9,1008.2 193.8,1009.5 223.4,1019.3 238.2,1020.6 260.4,1019.3 272.7,1031.7 297.4,1034.1 312.2,1036.6 322.1,1041.5 346.7,1046.5 368.9,1051.4 376.3,1066.7 386.2,1091.4 394.8,1096.3 407.1,1106 429.3,1106 441.7,1106 454,1121 463.9,1138.3 483.6,1145.7 491,1150.6 515.7,1148.2 528,1150.6 552.7,1150.6 577.4,1148.2 626.7,1145.7 651.4,1148.2 681,1150.6" stroke="#10108a" />
<path d="M123.4,974.2 132.1,985.3 139.5,992.7 149.3,997.6 174,1002.6 186.4,997.6 198.7,1007.5 223.4,1007.5 248,1010 260.4,1007.5 272.7,1024.8 287.5,1027.3 309.7,1027.3 322.1,1032.2 346.7,1034.7 366.5,1037.1 376.3,1051.9 386.2,1081.5 396.1,1096.3 407,1104 429,1104 442,1104 454,1119 464,1135 484,1143 491,1148 516,1146 528,1148 553,1148 577,1146 627,1144 651,1146 681,1149" stroke="#1318a0" />
<path d="M123.4,995 139.5,1000 149.3,1004 169.1,1009 183.9,1008 193.8,1009 223.4,1018 238.2,1019 260.4,1018 272.7,1030 297.4,1033 312.2,1036 322.1,1040 346.7,1045 368.9,1050 378,1062 387,1088 397,1097 408,1104 430,1104 442,1104 455,1120 465,1136 484,1143 491,1148 516,1146 681,1149" stroke="#1128ab" />
<path d="M123.4,879.2 138.2,1002.6" stroke="#1f57ab" />
<path d="M557.6,1155.6 565.1,1156.8" stroke="#1f57ab" />
<path d="M492.3,1150.6 496,1156.8" stroke="#1f57ab" />
<path d="M138.3,1010 152.3,1008 168.4,1007 184.6,1012 195.3,1016 211.5,1015 222.2,1023 238.4,1025 259.9,1022 270.6,1032 280,1036 297,1034 347,1035 367,1037 379,1052 387,1076 393,1093 400,1099 417,1104 429,1106 442,1110 454,1122 464,1132 479,1135 489,1140 503,1140 516,1142 540,1144 553,1140 565,1137 577,1137 590,1141 614,1142 627,1144 651,1148 681,1154" stroke="#3779a8" />
<path d="M639.1,1134.6 653.9,1130.9 681,1142" stroke="#3779a8" />
<path d="M138.3,1009 152.3,1007 168.4,1006 184.6,1011 195.3,1015 211.5,1014 222.2,1022 238.4,1024 259.9,1021 270.6,1031 280,1035 297.4,1031 346.7,1033 366.5,1035.5 378.8,1047 386.2,1066.7 389.9,1074.1 399.7,1093.9 417,1103.7 429.3,1106.2 441.7,1111.1 454,1123.5 463.9,1133.4 478.7,1135.8 488.6,1140.8 503.4,1140.8 515.7,1143.2 540.4,1145.7 552.7,1140.8 565.1,1138.3 577.4,1138.3 589.7,1142 614.4,1143.2 626.7,1145.7 651.4,1149.4 681,1155.6" stroke="#4a8fae" />
<path d="M138.3,1007.7 152.3,1005.5 168.4,1004.4 184.6,1009.8 195.3,1014.1 211.5,1013 222.2,1020.6 238.4,1022.7 259.9,1019.5 270.6,1030.3 280,1034.6 297,1032 347,1034 367,1036 379,1048 386,1064 391,1072 400,1090 417,1101 429,1104 442,1108 454,1120 464,1130 479,1133 489,1138 503,1138 516,1141 540,1143 553,1138 565,1136 577,1136 590,1140 614,1141 627,1143 651,1147 681,1153" stroke="#66a3b5" />
<path d="M138.3,998 149.1,992.6 168.4,980.8 180.3,1000.1 189.9,998 195.3,1001.2 206.1,1003.4 213.6,1001.2 222.2,1008.7 238.4,1009.8 249.1,1007.7 259.9,1003.4 267.4,1002.3 270.6,1013 280,1020.6 290,1028 322,1029 347,1029 366,1031 376,1022 384,1035 388,1052 392,1064 405,1084 415,1091 427,1099 442,1089 447,1099" stroke="#8ab8bd" />
<path d="M138.3,1001.2 152.3,999.1 168.4,999.1 179.2,1003.4 189.9,1005.5 195.3,1009.8 211.5,1008.7 222.2,1017.3 238.4,1019.5 249.1,1017.3 262,1015.2 270.6,1026 280,1030.3 287.5,1032.2 297.4,1034.7 322.1,1032.2 346.7,1032.2 366.5,1034.7 376.3,1024.8 383.7,1037.1 387.4,1054.4 392.3,1066.7 404.7,1086.5 414.5,1093.9 426.9,1101.3 441.7,1091.4 446.6,1101.3" stroke="#b4d4d2" />
<path d="M456.5,1108.7 463.9,1116.1" stroke="#b4d4d2" />
<path d="M466.4,1123.5 473.8,1128.4" stroke="#b4d4d2" />
<path d="M483.6,1135.8 486.1,1140.8 498.4,1143.2 508.3,1138.3 528,1140.8 547.8,1142" stroke="#b4d4d2" />
<path d="M604.5,1133.4 614.4,1140.8 624.3,1145.7" stroke="#b4d4d2" />
<path d="M106.2,1122.2 122.2,1113.6 149.3,1113.6 186.4,1112.4 198.7,1109.9 223.4,1106.7 257.9,1105 270.2,1098.8 287.5,1093.9 297.4,1091.4 317.1,1088.9 334.4,1090.2 346.7,1091.4 371.4,1091.4 378.8,1097.6 383.7,1096.3 389.9,1084 404.7,1077.8 409.6,1072.9 419.5,1070.4 424.4,1066.7 436.7,1072.9 444.2,1056.9 449.1,1056.9 463.9,1098.8 471.3,1066.7 478.7,1056.9 483.6,1034.7 488.6,1022.3 489.8,1005.1 498.4,1001.3 505.8,1002.6 518.2,1014.9 523.1,1017.4 530.5,1024.8 547.8,1022.3 552.7,1019.9 565.1,1012.5 579.9,1008.8 589.7,1003.8 602.1,1000.1 619.3,992.7 624.3,984.1 639.1,975.4 651.4,973 681,971.7" stroke="#9c4c35" />
<path d="M106.2,1045.8 114.8,1044.5 122.2,1039.6 149.3,1039.6 198.7,1040.1 272.7,1039.1 346.7,1039.1 364,1038.4 371.4,1034.7 381.3,1024.8 387.4,1012.5 404.7,1000.1 407.1,995.2 421.9,985.3 424.4,980.4 434.3,975.4 440.4,965.6 444.2,940.9 449.1,938.4 454,942.1 463.9,943.4 466.4,937.2 473.8,934.7 478.7,931 483.6,928.6 488.6,926.1 491,919.9 496,917.5 503.4,917.5 515.7,910.1 528,905.1 550.2,900.2 555.2,897.7 577.4,896.5 602.1,892.8 616.9,889.1 624.3,881.7 639.1,873 651.4,870.6 681,868.1" stroke="#b3b3b3" />
</g>
<text transform="translate(84.1,1126.6) scale(1,1.045)" text-anchor="end">0.2</text>
<text transform="translate(84.1,1076.4) scale(1,1.045)" text-anchor="end">0.4</text>
<text transform="translate(84.1,1026.2) scale(1,1.045)" text-anchor="end">0.6</text>
<text transform="translate(84.1,976.3) scale(1,1.045)" text-anchor="end">0.8</text>
<text transform="translate(84.1,926.2) scale(1,1.045)" text-anchor="end">1</text>
<text transform="translate(84.1,876) scale(1,1.045)" text-anchor="end">1.2</text>
<text transform="translate(693.8,837.4) scale(1,1.045)">2</text>
<text transform="translate(693.8,948.5) scale(1,1.045)">1</text>
<text transform="translate(693.8,1059.6) scale(1,1.045)">0</text>
<text transform="translate(693.8,1170.7) scale(1,1.045)">-1</text>
<text transform="translate(215,1206.7) scale(1,1.045)" text-anchor="middle">-50</text>
<text transform="translate(361.9,1206.7) scale(1,1.045)" text-anchor="middle">0</text>
<text transform="translate(501.2,1206.7) scale(1,1.045)" text-anchor="middle">50</text>
<text transform="translate(641.2,1206.7) scale(1,1.045)" text-anchor="middle">100</text>
<text transform="translate(122,870.6) scale(1,1.058)">e) Flow Unit 8</text>
<rect x="811.2" y="823.9" width="574.6" height="333.3" fill="none" stroke="#000" stroke-width="1.25"/>
<path d="M811.2,1123.5h6.4 M811.2,1056.9h6.4 M811.2,990.3h6.4 M811.2,923.6h6.4 M811.2,857h6.4 M1385.8,935h-6.4 M1385.8,1046.1h-6.4 M894.7,1157.2v-6.4 M894.7,823.9v6.4 M1062.4,1157.2v-6.4 M1062.4,823.9v6.4 M1230.6,1157.2v-6.4 M1230.6,823.9v6.4" stroke="#000" stroke-width="1.25" fill="none"/>
<clipPath id="cf"><rect x="808.9" y="821.6" width="579.2" height="337.9"/></clipPath>
<g clip-path="url(#cf)" fill="none" stroke-width="5.9" stroke-linejoin="round" stroke-linecap="butt">
<path d="M827.9,878.4 832.9,944.5 838,962.2 845.6,972.4 850.7,997.8 855.8,1002.9 860.9,995.3 871,985.1 881.2,980 893.9,982.6 906.6,987.6 919.3,997.8 932,1013 944.7,1025.7 952.3,1035.9 962.5,1051.1 972.6,1043.5 982.8,1041 998,1035.9 998,1023.2 1033.6,1023.2 1043.8,1041 1053.9,1048.6 1064.1,1043.5 1074.2,1058.8 1084.4,1068.9 1097.7,1065.1 1110.4,1068.9 1118,1075.3 1125.6,1058.8 1143.4,1048.6 1161.2,1074 1173.9,1091.8 1186.6,1112.1 1191.7,1121" stroke="#140f73" />
<path d="M830.4,896.2 835.5,947 843.1,967.3 848.2,987.6 853.3,995.3 863.4,985.1 881.2,977.5 906.6,987.6 921.8,997.8 937.1,1013 952.3,1028.3 967.6,1041 982.8,1033.4 998,1025.7 1033.6,1023.2 1041.2,1020.7 1053.9,1035.9 1069.2,1038.4 1079.3,1058.8 1085,1063.8 1100.2,1066.4 1118,1071.5 1125.6,1056.2 1143.4,1043.5 1151,1053.7 1166.3,1079.1 1181.5,1099.4 1191.7,1114.6 1196.8,1124.8 1206.9,1127.3 1217.1,1137.5" stroke="#10108a" />
<path d="M830.4,896.2 835.5,947 843.1,963.3 848.2,983.6 853.3,991.3 863.4,981.1 881.2,973.5 906.6,983.6 921.8,993.8 937.1,1009 952.3,1024.3 967.6,1037 982.8,1029.4 998,1021.7 1033.6,1019.2 1041.2,1016.7 1053.9,1031.9 1069.2,1034.4 1079.3,1054.8 1085,1059.8 1100.2,1062.4 1118,1067.5 1125.6,1052.2 1143.4,1039.5 1151,1049.7 1166.3,1075.1 1181.5,1095.4 1191.7,1114.6 1196.8,1124.8 1206.9,1127.3 1217.1,1137.5" stroke="#1318a0" />
<path d="M827.9,908.9 832.9,941.9 843.1,962.2 855.8,972.4 868.5,962.2 881.2,959.7 893.9,962.2 911.7,969.9 932,977.5 944.7,985.1 957.4,995.3 970.1,1002.9 982.8,1005.4 1008.2,1005.4 1033.6,1008 1048.8,1010.5 1059,1013 1071.7,1015.6 1085,1020.7 1110.4,1015.6 1120.6,1018.1 1125.6,1030.8 1146,1041 1161.2,1053.7 1171.4,1074 1186.6,1099.4 1194.2,1109.6 1217.1,1112.1 1227.2,1124.8 1234.9,1150.2" stroke="#1128ab" />
<path d="M830,920 835,945 848,965 860,968 870,958 885,955 900,960 915,967 932,973 946,981 958,992 972,1000 984,1003 1008,1003 1034,1005 1050,1008 1072,1012 1085,1017 1110,1012 1122,1015 1128,1028 1148,1038 1162,1050 1173,1070 1188,1096 1196,1106 1212,1110" stroke="#1439af" />
<path d="M829,880 832.9,931.8 845.6,947 855.8,952.1 871,949.5 881.2,972.4 888.8,977.5 896.4,954.6 911.7,957.2 932,962.2 944.7,972.4 957.4,982.6 970.1,992.7 995.5,952.1" stroke="#1f57ab" />
<path d="M828.5,850.5 831,875" stroke="#2868a8" />
<path d="M827.9,870.8 835.5,921.6 848.2,939.4 860.9,941.9 876.1,924.1 893.9,929.2 919.3,934.3 944.7,952.1 970.1,977.5 982.8,972.4 995.5,962.2 1013.3,947 1028.5,972.4 1036.1,962.2 1051.4,972.4 1071.7,982.6 1079,998 1085,1008 1110.4,1008 1123.1,1013 1146,1023.2 1161.2,1046.1 1176.4,1068.9 1189.1,1076.5 1196.8,1112.1 1212,1119.7 1224.7,1104.5 1237.4,1129.9 1260.3,1132.4" stroke="#2868a8" />
<path d="M830.4,870.8 838,908.9 850.7,926.7 868.5,924.1 881.2,929.2 901.5,921.6 919.3,931.8 944.7,947 970.1,982.6 982.8,997.8 1008.2,995.3 1028.5,992.7 1038.7,987.6 1048.8,974.9 1059,1002.9 1071.7,982.6 1084,1018 1085,1002.9 1118,1002.9 1135.8,1013 1151,1038.4 1173.9,1066.4 1186.6,1074 1194.2,1094.3 1204.4,1104.5 1217.1,1122.2 1227.2,1101.9 1237.4,1124.8 1242.5,1107" stroke="#4a8fae" />
<path d="M828,872.3 832,873.9 833.6,905.9 836,929.8 840.8,941.8 847.9,949.8 850.3,941.8 855.9,944.2 863.1,945.8 867.9,941.8 871.9,941.8 875.9,944.2 883.8,944.2 899.8,944.2 920,945.8 945,955 970,985 983,998 1008,997 1030,996 1045,1000 1060,1005 1075,1004 1085,1006 1118,1006 1136,1016 1151,1041 1174,1070 1187,1078 1195,1098 1205,1108 1217,1124" stroke="#66a3b5" />
<path d="M833,880 838,905 843,920 848,930 854,936 860,938 866,933 869.5,921.8 872,930 876,927 881,931 886,934 892,929 899.8,919.4 904,926 912,932 920,940 944.7,972.4 957.4,985.1 972.6,1018.1 982.8,1018.1 995.5,1008 1033.6,1015.6 1043.8,1008" stroke="#8ab8bd" />
<path d="M1126,975 1128.2,974.9 1146,954.6 1163.7,1023.2 1173.9,964.8 1189.1,929.2 1194.2,1099.4 1204.4,1114.6 1217.1,1076.5 1229.8,1094.3 1236.1,1025.7" stroke="#8ab8bd" />
<path d="M836,877.9 840.8,887.5 845.5,889.1 847.9,897.9 850.3,905.9 851.9,907.5 853.5,917.8 858.3,925.8 861.5,934.6 866.3,933.8 869.5,923.4 872.7,931.4 875.9,929.8 879.1,939.4 882.2,929.8 885.4,936.2 891.8,931.4 899.8,926.6 907.8,937.8 920,957.7 937.1,972.4 957.4,997.8 972.6,1020.7 982.8,1015.6 995.5,1008 1020.9,1013 1033.6,1013 1050,1005 1060,998.5 1071.4,983 1082.2,1012.6 1086.9,1012.6 1103,965.6 1118,966 1128.2,973.7 1146,936.8 1163.7,1002.9 1173.9,977.5 1189.1,990.2 1196.8,1089.2 1212,1084.2 1217.1,1076.5 1227.2,1086.7 1237.4,1101.9" stroke="#b4d4d2" />
<path d="M811.3,1115.9 817.7,1110.8 830.4,1107 835.5,1099.4 845.6,1095.6 850.7,1096.9 860.9,1100.7 876.1,1101.9 891.4,1103.2 932,1104.5 957.4,1107 982.8,1115.9 1008.2,1124.8 1028.5,1129.9 1038.7,1137.5 1048.8,1137.5 1053.9,1134.9 1064.1,1134.9 1071.7,1131.1 1085,1131.1 1118,1129.9 1125.6,1126.1 1146,1133.7 1163.7,1123.5 1173.9,1131.1 1186.6,1127.3 1192.9,1136.2 1212,1128.6 1218.3,1127.3 1227.2,1145.1 1234.9,1143.8 1247.6,1150.2 1265.3,1159.1 1278,1168" stroke="#9c4c35" />
<path d="M1293.3,1168 1300.9,1161.6 1316.1,1133.7 1328.8,1132.4 1336.5,1127.3 1361.9,1124.8 1372,1119.7 1374.6,1086.7 1379.6,1079.1 1387.2,1081.6" stroke="#9c4c35" />
<path d="M811.3,1039.7 855.8,1037.2 906.6,1037.2 957.4,1035.9 1008.2,1034.6 1033.6,1033.4 1043.8,1027 1059,1025.7 1069.2,1020.7 1076.8,1016.8 1085,1016.8 1118,1015.6 1130.7,1010.5 1161.2,1008 1186.6,1006.7 1217.1,1005.4 1227.2,1009.2 1262.8,1002.9 1300.9,995.3 1303.4,990.2 1326.3,983.8 1333.9,980 1351.7,972.4 1364.4,967.3 1372,964.8 1377.1,958.4 1386,957.2" stroke="#b3b3b3" />
</g>
<text transform="translate(788.8,1136.5) scale(1,1.045)" text-anchor="end">0.3</text>
<text transform="translate(788.8,1069.9) scale(1,1.045)" text-anchor="end">0.4</text>
<text transform="translate(788.8,1003.3) scale(1,1.045)" text-anchor="end">0.5</text>
<text transform="translate(788.8,936.6) scale(1,1.045)" text-anchor="end">0.6</text>
<text transform="translate(788.8,870) scale(1,1.045)" text-anchor="end">0.7</text>
<text transform="translate(1398.4,837.4) scale(1,1.045)">2</text>
<text transform="translate(1398.4,948.5) scale(1,1.045)">1</text>
<text transform="translate(1398.4,1059.6) scale(1,1.045)">0</text>
<text transform="translate(1398.4,1170.7) scale(1,1.045)">-1</text>
<text transform="translate(886.6,1206.7) scale(1,1.045)" text-anchor="middle">-50</text>
<text transform="translate(1061,1206.7) scale(1,1.045)" text-anchor="middle">0</text>
<text transform="translate(1227.4,1206.7) scale(1,1.045)" text-anchor="middle">50</text>
<text transform="translate(833.6,870.6) scale(1,1.058)">f) Flow Unit 12</text>
<text transform="translate(686.5,1253.5) scale(1,1.058)" text-anchor="middle">Distance From Grounding Line (km)</text>
<text transform="translate(27.4,709) rotate(-90) scale(1,1.058)" text-anchor="middle" font-size="35.9">Mean Velocity (km/yr)</text>
<text transform="translate(1479,699) rotate(-90) scale(1,1.058)" text-anchor="middle">Elevation (km)</text>
<path d="M155.4,1271.8h88.5" stroke="#000" stroke-width="6"/>
<text transform="translate(250.6,1284.8) scale(1,1.045)">1994</text>
<path d="M155.4,1317.6h88.5" stroke="#000" stroke-width="6"/>
<text transform="translate(250.6,1330.6) scale(1,1.045)">1996</text>
<path d="M155.4,1363.4h88.5" stroke="#000" stroke-width="6"/>
<text transform="translate(250.6,1376.4) scale(1,1.045)">1998</text>
<path d="M351.5,1271.8h88.5" stroke="#140f73" stroke-width="6"/>
<text transform="translate(446.7,1284.8) scale(1,1.045)">2005</text>
<path d="M351.5,1317.6h88.5" stroke="#10108a" stroke-width="6"/>
<text transform="translate(446.7,1330.6) scale(1,1.045)">2006</text>
<path d="M351.5,1363.4h88.5" stroke="#1318a0" stroke-width="6"/>
<text transform="translate(446.7,1376.4) scale(1,1.045)">2007</text>
<path d="M547.6,1271.8h88.5" stroke="#1323a8" stroke-width="6"/>
<text transform="translate(642.8,1284.8) scale(1,1.045)">2008</text>
<path d="M547.6,1317.6h88.5" stroke="#1128ab" stroke-width="6"/>
<text transform="translate(642.8,1330.6) scale(1,1.045)">2009</text>
<path d="M547.6,1363.4h88.5" stroke="#1439af" stroke-width="6"/>
<text transform="translate(642.8,1376.4) scale(1,1.045)">2010</text>
<path d="M743.7,1271.8h88.5" stroke="#1f57ab" stroke-width="6"/>
<text transform="translate(838.9,1284.8) scale(1,1.045)">2012</text>
<path d="M743.7,1317.6h88.5" stroke="#2868a8" stroke-width="6"/>
<text transform="translate(838.9,1330.6) scale(1,1.045)">2013</text>
<path d="M743.7,1363.4h88.5" stroke="#3779a8" stroke-width="6"/>
<text transform="translate(838.9,1376.4) scale(1,1.045)">2014</text>
<path d="M939.8,1271.8h88.5" stroke="#4a8fae" stroke-width="6"/>
<text transform="translate(1035,1284.8) scale(1,1.045)">2015</text>
<path d="M939.8,1317.6h88.5" stroke="#66a3b5" stroke-width="6"/>
<text transform="translate(1035,1330.6) scale(1,1.045)">2016</text>
<path d="M939.8,1363.4h88.5" stroke="#8ab8bd" stroke-width="6"/>
<text transform="translate(1035,1376.4) scale(1,1.045)">2017</text>
<path d="M1135.9,1271.8h88.5" stroke="#b4d4d2" stroke-width="6"/>
<text transform="translate(1231.1,1284.8) scale(1,1.045)">2018</text>
<path d="M1135.9,1317.6h88.5" stroke="#9c4c35" stroke-width="6"/>
<text transform="translate(1231.1,1330.6) scale(1,1.058)">Bed</text>
<path d="M1135.9,1363.4h88.5" stroke="#b3b3b3" stroke-width="6"/>
<text transform="translate(1231.1,1376.4) scale(1,1.058)">Surface</text>
</svg></body></html>
